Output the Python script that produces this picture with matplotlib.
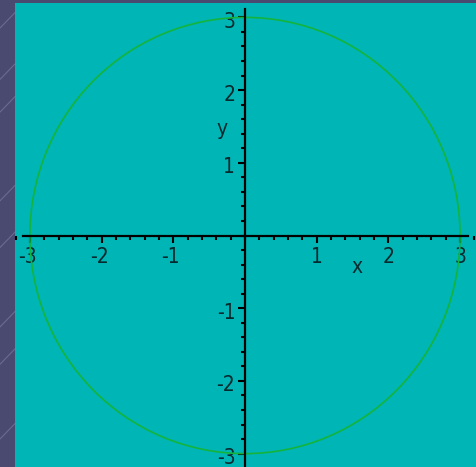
import matplotlib
matplotlib.use("Agg")
import matplotlib.pyplot as plt
from matplotlib import font_manager as fm
from matplotlib.patches import Circle
from matplotlib.lines import Line2D
from matplotlib.ticker import FixedLocator, MultipleLocator
from matplotlib.transforms import ScaledTranslation

# Curve: x^2 + y^2 = r^2
radius = 3
x_ticks = [-3, -2, -1, 1, 2, 3]
y_ticks = [-3, -2, -1, 1, 2, 3]
x_tick_labels = ["-3", "-2", "-1", "1", "2", "3"]
y_tick_labels = ["-3", "-2", "-1", "1", "2", "3"]
minor_step = 0.2

PANEL = "#00b5b5"
FRAME = "#4a4970"
CURVE = "#14b43c"
INK = "#062a2e"

installed = {f.name for f in fm.fontManager.ttflist}
if "Liberation Sans Narrow" in installed:
    font_kw = dict(family="Liberation Sans Narrow")
else:
    font_kw = dict(family="DejaVu Sans", stretch="condensed")

fig = plt.figure(figsize=(4.76, 4.67), dpi=100, facecolor=FRAME)

# faint diagonal strokes in the left border
for y0 in [0.94, 0.83, 0.76, 0.57, 0.47, 0.30, 0.22, 0.06]:
    fig.add_artist(Line2D([0, 15 / 476], [y0, y0 + 0.033], color="#8c8cae",
                          lw=0.8, alpha=0.5))

ax = fig.add_axes([15 / 476, 0, 461 / 476, 464 / 467])
ax.set_facecolor(PANEL)
ax.set_xlim(-3.208, 3.222)
ax.set_ylim(-3.184, 3.198)

ax.add_patch(Circle((0, 0), radius, fill=False, edgecolor=CURVE, lw=1.2,
                    zorder=3))

for side in ("top", "right"):
    ax.spines[side].set_visible(False)
ax.spines["left"].set_position(("data", 0))
ax.spines["bottom"].set_position(("data", 0))
ax.spines["left"].set_bounds(-3.2, 3.12)
ax.spines["bottom"].set_bounds(-3.1, 3.11)
for side in ("left", "bottom"):
    ax.spines[side].set_linewidth(1.6)
    ax.spines[side].set_color("black")
    ax.spines[side].set_zorder(4)

ax.xaxis.set_major_locator(FixedLocator(x_ticks))
ax.yaxis.set_major_locator(FixedLocator(y_ticks))
ax.set_xticklabels(x_tick_labels)
ax.set_yticklabels(y_tick_labels)
ax.xaxis.set_minor_locator(MultipleLocator(minor_step))
ax.yaxis.set_minor_locator(MultipleLocator(minor_step))

ax.tick_params(which="major", direction="out", length=5, width=1.5,
               color="black", labelcolor=INK, labelsize=15)
ax.tick_params(which="minor", direction="out", length=3, width=1.5,
               color="black")
ax.tick_params(axis="x", which="major", pad=3)
ax.tick_params(axis="y", which="major", pad=2)

for lab in ax.get_xticklabels() + ax.get_yticklabels():
    lab.set(**font_kw)

# nudge labels: digits sit under their ticks, y labels sit slightly low
for lab, v in zip(ax.get_xticklabels(), x_ticks):
    if v < 0:
        lab.set_transform(lab.get_transform()
                          + ScaledTranslation(-2.5 / 100, 0, fig.dpi_scale_trans))
for lab in ax.get_yticklabels():
    lab.set_transform(lab.get_transform()
                      + ScaledTranslation(0, -2.5 / 100, fig.dpi_scale_trans))

ax.text(1.56, -0.43, "x", ha="center", va="center", color=INK, fontsize=15,
        **font_kw)
ax.text(-0.32, 1.46, "y", ha="center", va="center", color=INK, fontsize=15,
        **font_kw)

fig.savefig("out.png", dpi=100, facecolor=FRAME)
